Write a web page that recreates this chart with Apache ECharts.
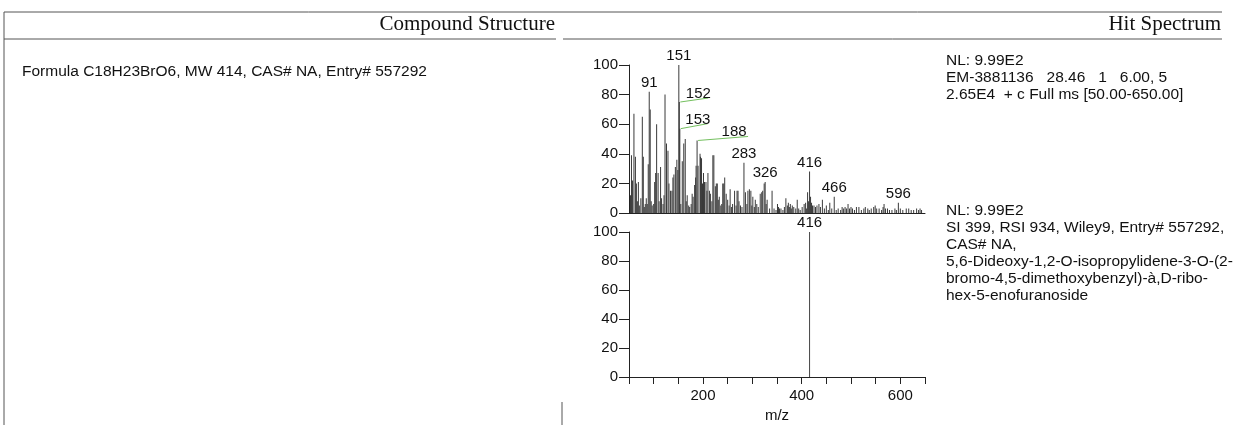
<!DOCTYPE html>
<html>
<head>
<meta charset="utf-8">
<title>Hit Spectrum</title>
<script src="https://cdn.jsdelivr.net/npm/echarts@6/dist/echarts.min.js"></script>
<style>
html,body{margin:0;padding:0;background:#fff;}
#main{width:1244px;height:425px;}
</style>
</head>
<body>
<div id="main"></div>
<script>
// measured spectrum (top panel): m/z and relative abundance
var sampleMz  = [53,55,57,60,63,65,67,69,71,74,77,79,81,83,85,87,89,91,93,95,97,100,102,104,106,109,111,114,116,119,121,123,126,129,131,134,137,139,141,144,147,149,151,152,153,155,158,161,164,166,168,171,173,176,178,180,183,185,186,188,190,194,195,197,199,201,203,206,208,210,213,215,218,220,222,225,227,229,231,233,236,238,240,242,244,247,250,253,255,258,260,264,267,269,271,273,276,279,283,286,289,291,294,297,299,301,304,306,309,312,316,319,321,324,326,328,330,335,340,344,348,351,353,355,358,362,365,368,371,373,375,377,379,381,384,388,391,394,397,401,405,408,410,412,414,416,418,420,422,425,428,431,435,438,442,446,450,454,457,461,466,470,474,479,482,485,488,491,494,497,500,503,507,511,516,521,526,529,534,537,541,546,549,552,557,562,565,567,570,574,578,583,589,592,596,600,605,612,617,622,627,633,637,640,643];
var sampleInt = [12,39,22,67,38,20,8,21,5,10,65,38,4,6,10,6,33,82,70,8,5,6,21,27,60,27,8,31,10,6,12,80,47,42,20,15,15,24,26,31,36,29,100,75,57,6,35,47,50,8,12,5,4,6,13,11,19,24,32,49,32,40,38,37,20,27,21,21,15,27,15,13,8,39,39,18,20,20,9,11,5,6,20,20,24,13,9,5,16,4,6,15,5,15,15,8,5,4,34,14,6,15,16,15,5,11,4,9,6,4,13,14,15,20,21,6,9,3,15,3,2,6,4,3,3,2,4,10,5,7,4,6,3,5,4,3,9,3,2,4,6,7,3,14,8,28,11,7,5,5,4,5,6,4,9,3,5,2,7,3,11,2,3,2,4,3,4,3,6,3,4,3,2,4,4,2,3,4,3,2,3,4,5,3,3,2,4,6,3,3,2,2,3,2,7,3,2,3,3,2,2,3,2,3,2];
// library hit (bottom panel)
var hitMz  = [416];
var hitInt = [100];
// peaks that carry an m/z label
var sampleLabels = [91,151,152,153,188,283,326,416,466,596];
var hitLabels = [416];

// labels pushed aside with a green leader line (pixel offsets from the peak top)
var leaders = {
  152: {lx: 29, ly: -4, tx: 19, ty: -8},
  153: {lx: 28, ly: -5, tx: 18, ty: -9},
  188: {lx: 51, ly: -4, tx: 37, ty: -9}
};

var FONT = '"Liberation Sans", Arial, sans-serif';

function pairs(xs, ys) {
  var out = [];
  for (var i = 0; i < xs.length; i++) out.push([xs[i], ys[i]]);
  return out;
}
function labelled(xs, ys, wanted) {
  var out = [];
  for (var i = 0; i < xs.length; i++) {
    if (wanted.indexOf(xs[i]) >= 0) out.push([xs[i], ys[i]]);
  }
  return out;
}

function renderLabel(params, api) {
  var mz = api.value(0);
  var p = api.coord([mz, api.value(1)]);
  var off = leaders[mz];
  var kids = [];
  if (off && params.seriesIndex === 1) {
    kids.push({
      type: 'line',
      shape: {x1: p[0] + 1, y1: p[1], x2: p[0] + off.lx, y2: p[1] + off.ly},
      style: {stroke: '#74c05f', lineWidth: 1}
    });
  } else {
    off = null;
  }
  kids.push({
    type: 'text',
    x: p[0] + (off ? off.tx : 0),
    y: p[1] + (off ? off.ty : -9),
    style: {text: String(mz), fill: '#111', font: '15px ' + FONT, align: 'center', verticalAlign: 'middle'}
  });
  return {type: 'group', children: kids};
}

var myChart = echarts.init(document.getElementById('main'));

var axisLine = {show: true, lineStyle: {color: '#222', width: 1}};
function yAxisCfg(idx) {
  return {
    gridIndex: idx, type: 'value', min: 0, max: 100, interval: 20,
    axisLine: axisLine,
    axisTick: {show: true, length: 10, lineStyle: {color: '#222'}},
    axisLabel: {color: '#111', fontSize: 15, fontFamily: FONT, margin: 11},
    splitLine: {show: false}
  };
}

var lineStyleHead = {stroke: '#555', lineWidth: 1};
function txt(x, y, s, opt) {
  var st = {text: s, fill: '#111', font: '15.5px ' + FONT, align: 'left', verticalAlign: 'middle'};
  for (var k in opt) st[k] = opt[k];
  return {type: 'text', x: x, y: y, style: st};
}

var option = {
  animation: false,
  backgroundColor: '#fff',
  grid: [
    {left: 629, top: 65, width: 296, height: 148},
    {left: 629, top: 232, width: 296, height: 145}
  ],
  xAxis: [
    {gridIndex: 0, type: 'value', min: 50, max: 650, interval: 50,
     axisLine: axisLine, axisTick: {show: false}, axisLabel: {show: false}, splitLine: {show: false}},
    {gridIndex: 1, type: 'value', min: 50, max: 650, interval: 50,
     axisLine: axisLine,
     axisTick: {show: true, length: 7, lineStyle: {color: '#222'}},
     axisLabel: {color: '#111', fontSize: 15, fontFamily: FONT, margin: 11,
       formatter: function (v) { return v % 200 === 0 ? String(v) : ''; }},
     splitLine: {show: false},
     name: 'm/z', nameLocation: 'middle', nameGap: 31,
     nameTextStyle: {color: '#111', fontSize: 15, fontFamily: FONT}}
  ],
  yAxis: [yAxisCfg(0), yAxisCfg(1)],
  series: [
    {type: 'bar', xAxisIndex: 0, yAxisIndex: 0, barWidth: 1, data: pairs(sampleMz, sampleInt),
     itemStyle: {color: '#3a3a3a'}, silent: true},
    {type: 'custom', xAxisIndex: 0, yAxisIndex: 0, clip: false, renderItem: renderLabel,
     data: labelled(sampleMz, sampleInt, sampleLabels)},
    {type: 'bar', xAxisIndex: 1, yAxisIndex: 1, barWidth: 1, data: pairs(hitMz, hitInt),
     itemStyle: {color: '#444'}, silent: true},
    {type: 'custom', xAxisIndex: 1, yAxisIndex: 1, clip: false, renderItem: renderLabel,
     data: labelled(hitMz, hitInt, hitLabels)}
  ],
  graphic: [
    {type: 'line', shape: {x1: 4, y1: 12, x2: 1222, y2: 12}, style: lineStyleHead},
    {type: 'line', shape: {x1: 4, y1: 39, x2: 556, y2: 39}, style: lineStyleHead},
    {type: 'line', shape: {x1: 563, y1: 39, x2: 1222, y2: 39}, style: lineStyleHead},
    {type: 'line', shape: {x1: 4, y1: 12, x2: 4, y2: 425}, style: lineStyleHead},
    {type: 'line', shape: {x1: 562, y1: 402, x2: 562, y2: 425}, style: lineStyleHead},
    txt(555, 24, 'Compound Structure', {font: '21px "Liberation Serif", "Times New Roman", serif', align: 'right'}),
    txt(1221, 24, 'Hit Spectrum', {font: '21px "Liberation Serif", "Times New Roman", serif', align: 'right'}),
    txt(22, 72, 'Formula C18H23BrO6, MW 414, CAS# NA, Entry# 557292'),
    txt(946, 61, 'NL: 9.99E2'),
    txt(946, 78, 'EM-3881136   28.46   1   6.00, 5'),
    txt(946, 95, '2.65E4  + c Full ms [50.00-650.00]'),
    txt(946, 211, 'NL: 9.99E2'),
    txt(946, 228, 'SI 399, RSI 934, Wiley9, Entry# 557292,'),
    txt(946, 245, 'CAS# NA,'),
    txt(946, 262, '5,6-Dideoxy-1,2-O-isopropylidene-3-O-(2-'),
    txt(946, 279, 'bromo-4,5-dimethoxybenzyl)-\u00e0,D-ribo-'),
    txt(946, 296, 'hex-5-enofuranoside')
  ]
};

myChart.setOption(option);
</script>
</body>
</html>
